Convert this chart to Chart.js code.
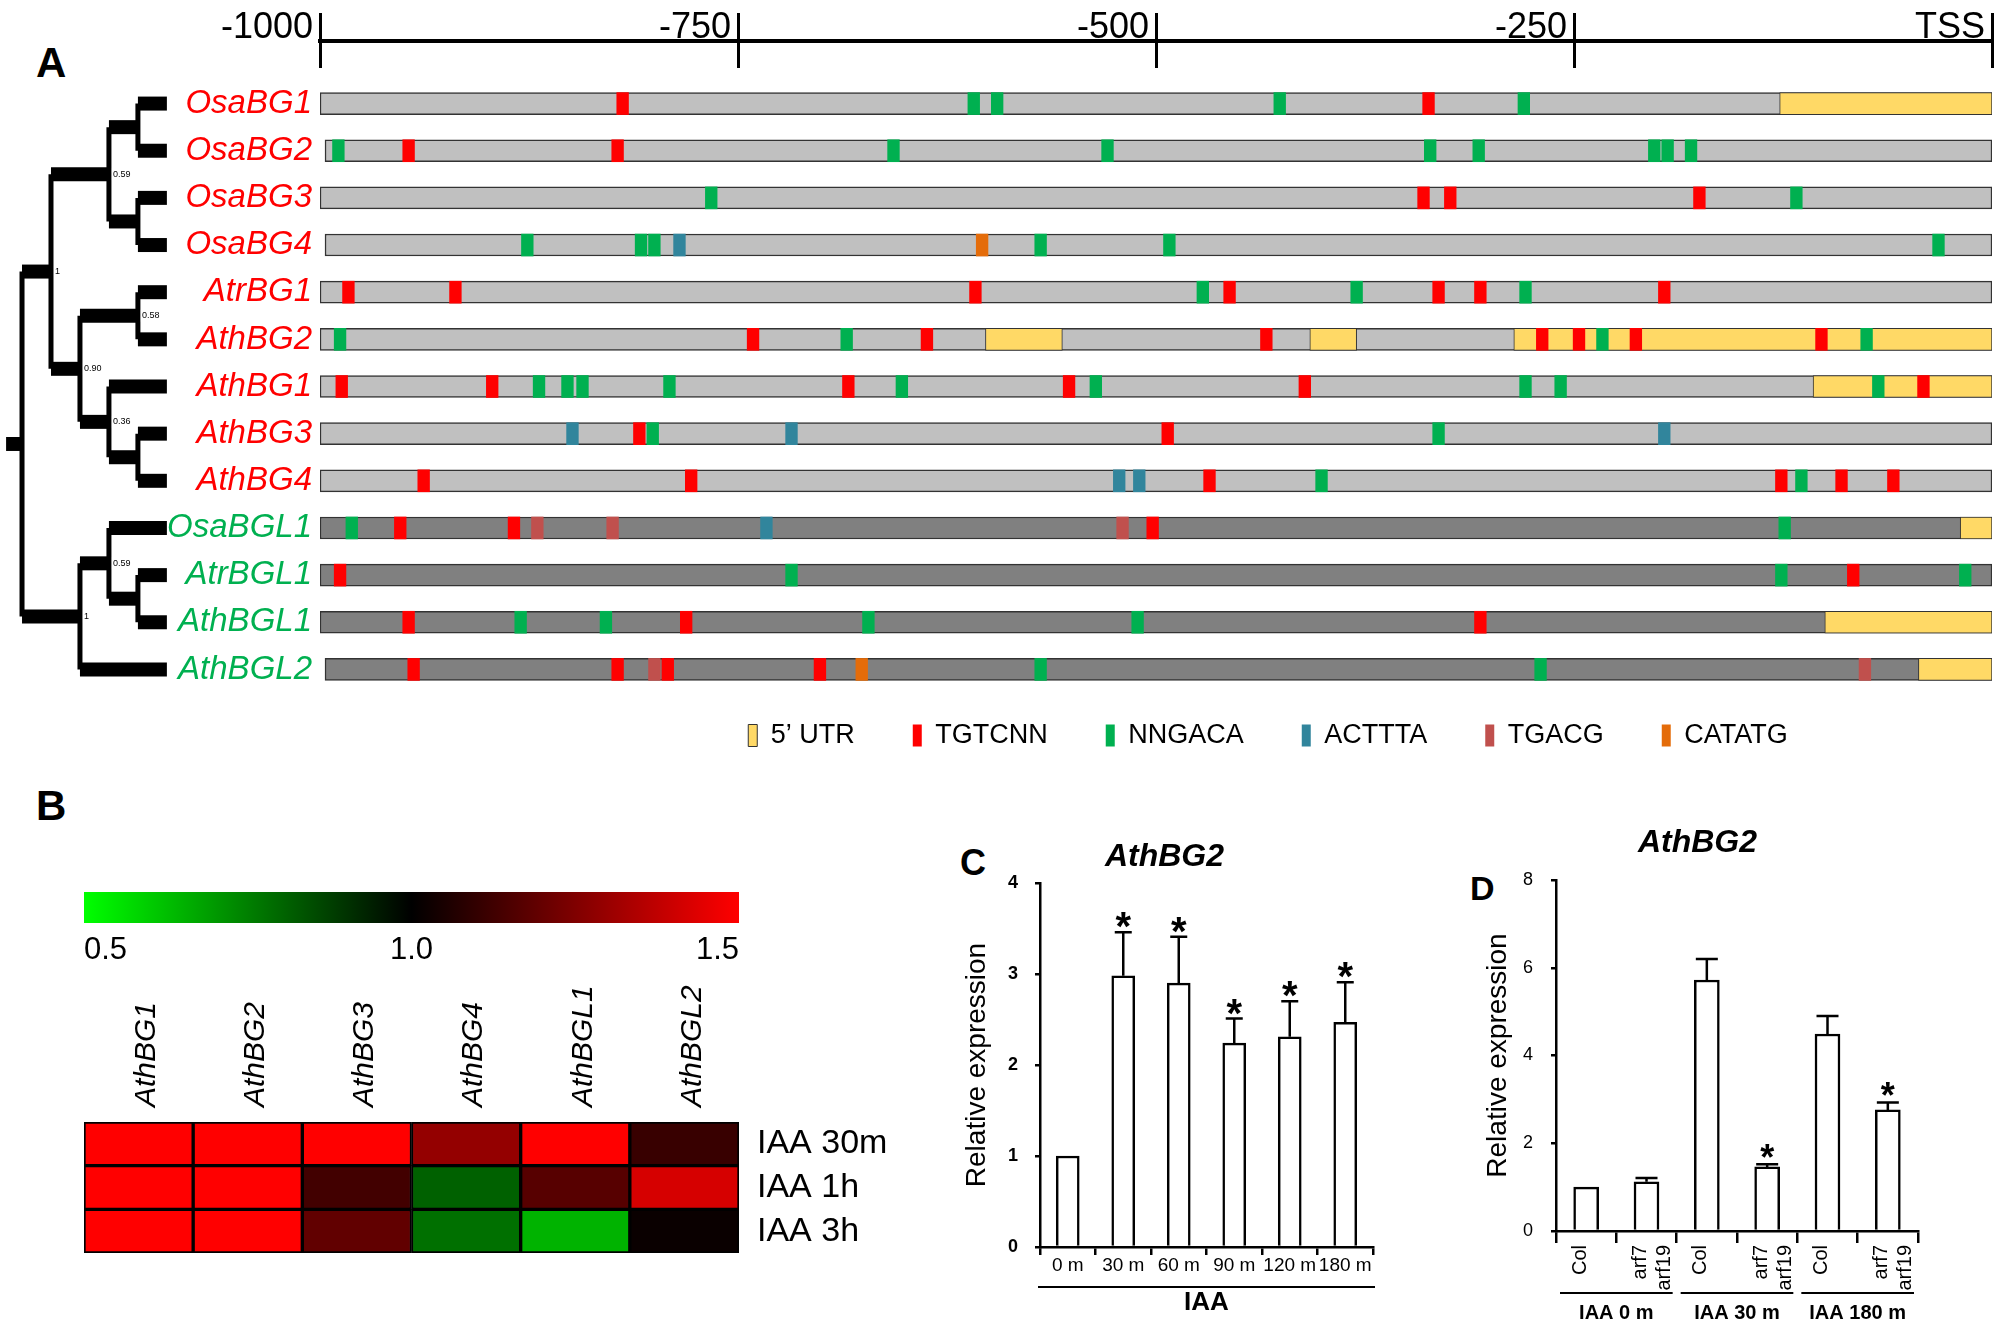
<!DOCTYPE html>
<html>
<head>
<meta charset="utf-8">
<script src="https://cdn.jsdelivr.net/npm/chart.js@4.4.1/dist/chart.umd.min.js"></script>
<style>
  body { margin: 0; background: #fff; width: 2005px; height: 1328px; position: relative; overflow: hidden;
         font-family: "Liberation Sans", Arial, sans-serif; }
  canvas, .panel { position: absolute; }
  .panel { font-weight: bold; line-height: 1; color: #000; }
</style>
</head>
<body>
<div class="panel" style="left:36px;top:42px;font-size:42px">A</div>
<div class="panel" style="left:36px;top:785px;font-size:42px">B</div>
<div class="panel" style="left:960px;top:845px;font-size:36px">C</div>
<div class="panel" style="left:1470px;top:871px;font-size:34px">D</div>

<canvas id="axisA" width="1855" height="68" style="left:150px;top:0"></canvas>
<canvas id="treeA" width="175" height="613" style="left:0;top:80px"></canvas>
<canvas id="promA" width="1855" height="613" style="left:150px;top:80px"></canvas>
<canvas id="legendA" width="1300" height="160" style="left:618px;top:664px"></canvas>
<canvas id="barB" width="920" height="90" style="left:0;top:880px"></canvas>
<canvas id="heatB" width="920" height="300" style="left:0;top:960px"></canvas>
<canvas id="chartC" width="500" height="498" style="left:940px;top:830px"></canvas>
<canvas id="chartD" width="564" height="508" style="left:1440px;top:820px"></canvas>

<script>
// ---- panel A data ----
const genes = ['OsaBG1', 'OsaBG2', 'OsaBG3', 'OsaBG4', 'AtrBG1', 'AthBG2', 'AthBG1', 'AthBG3', 'AthBG4',
               'OsaBGL1', 'AtrBGL1', 'AthBGL1', 'AthBGL2'];
const promoterStart = [-1000, -997, -1000, -997, -1000, -1000, -1000, -1000, -1000, -1000, -1000, -1000, -997];
const axisTicks = [-1000, -750, -500, -250, 0];
// [row, from, to]
const utrSegments = [[0, -127, 0], [5, -602, -556], [5, -408, -380], [5, -286, 0], [6, -107, 0],
                     [9, -19, 0], [11, -100, 0], [12, -44, 0]];
const motifNames = ['TGTCNN', 'NNGACA', 'ACTTTA', 'TGACG', 'CATATG'];
// motif positions (bp upstream of TSS), one list per gene row
const tgtcnn = [[-819, -337], [-947, -822], [-340, -324, -175], [], [-983, -919, -608, -456, -331, -306, -196],
  [-741, -637, -434, -269, -247, -213, -102], [-987, -897, -684, -552, -411, -41], [-809, -493],
  [-938, -778, -468, -126, -90, -59], [-952, -884, -502], [-988, -83], [-947, -781, -306], [-944, -822, -792, -701]];
const nngaca = [[-609, -595, -426, -280], [-989, -657, -529, -336, -307, -202, -194, -180], [-766, -117],
  [-876, -808, -800, -569, -492, -32], [-472, -380, -279], [-988, -685, -233, -75],
  [-869, -852, -843, -791, -652, -536, -279, -258, -68], [-801, -331], [-401, -114], [-981, -124],
  [-718, -126, -16], [-880, -829, -672, -511], [-569, -270]];
const acttta = [[], [], [], [-785], [], [], [], [-849, -718, -196], [-522, -510], [-733], [], [], []];
const tgacg = [[], [], [], [], [], [], [], [], [], [-870, -825, -520], [], [], [-800, -76]];
const catatg = [[], [], [], [-604], [], [], [], [], [], [], [], [], [-676]];

// tree: node -> [children (gene row or node id), depth, support]
const treeNodes = {
  a: [[0, 1], 4, ''], b: [[2, 3], 4, ''], osa: [['a', 'b'], 3, '0.59'],
  c: [[4, 5], 4, '0.58'], d: [[7, 8], 4, ''], e: [[6, 'd'], 3, '0.36'],
  f: [['c', 'e'], 2, '0.90'], g: [['osa', 'f'], 1, '1'],
  h: [[10, 11], 4, ''], i: [[9, 'h'], 3, '0.59'], j: [['i', 12], 2, '1'],
  root: [['g', 'j'], 0, '']
};

// ---- panel B data ----
const heatGenes = ['AthBG1', 'AthBG2', 'AthBG3', 'AthBG4', 'AthBGL1', 'AthBGL2'];
const heatTimes = ['IAA 30m', 'IAA 1h', 'IAA 3h'];
const heat30m = [1.5, 1.5, 1.5, 1.29, 1.5, 1.11];
const heat1h = [1.5, 1.5, 1.13, 0.81, 1.17, 1.42];
const heat3h = [1.5, 1.5, 1.19, 0.78, 0.65, 1.02];
const colorbarTicks = [0.5, 1.0, 1.5];

// ---- panel C data ----
const timesC = ['0 m', '30 m', '60 m', '90 m', '120 m', '180 m'];
const exprC = [1.0, 2.98, 2.90, 2.24, 2.31, 2.47];
const errC = [0, 0.48, 0.51, 0.27, 0.39, 0.44];
const starC = [false, true, true, true, true, true];

// ---- panel D data ----
const genotypesD = ['Col', ['arf7', 'arf19'], 'Col', ['arf7', 'arf19'], 'Col', ['arf7', 'arf19']];
const exprD = [1.0, 1.12, 5.72, 1.46, 4.49, 2.76];
const errD = [0, 0.09, 0.48, 0.06, 0.41, 0.17];
const starD = [false, false, false, true, false, true];
const groupsD = ['IAA 0 m', 'IAA 30 m', 'IAA 180 m'];

// ---- styling ----
const FONT = '"Liberation Sans", Arial, sans-serif';
Chart.defaults.font.family = FONT;
Chart.defaults.color = '#000';
Chart.defaults.animation = false;
Chart.defaults.responsive = false;
Chart.defaults.maintainAspectRatio = false;
Chart.defaults.plugins.legend.display = false;
Chart.defaults.plugins.tooltip.enabled = false;

const motifColors = ['#ff0000', '#00b050', '#31859c', '#c0504d', '#e46c0a'];
const utrColor = '#ffd966';
const isBGL = i => genes[i].includes('BGL');
// keep tick labels from shrinking the plot area
const noPad = s => { s.paddingTop = 0; s.paddingBottom = 0; };

// ---- A: top ruler ----
new Chart(document.getElementById('axisA'), {
  type: 'scatter',
  data: { datasets: [] },
  options: {
    layout: { padding: { left: 170, right: 13 } },
    scales: {
      x: {
        type: 'linear', position: 'top', min: -1000, max: 0,
        afterBuildTicks: s => { s.ticks = axisTicks.map(v => ({ value: v })); },
        afterFit: s => { s.height = 41; },
        ticks: { callback: v => v === 0 ? 'TSS' : String(v), font: { size: 36 }, align: 'end',
                 labelOffset: -7, padding: -37, maxRotation: 0 },
        grid: { color: '#000', lineWidth: 3, tickLength: 28 },
        border: { color: '#000', width: 4 }
      },
      y: { display: false }
    }
  }
});

// ---- A: tree ----
const nodeY = {};
function yOf(n) {
  if (typeof n === 'number') return n;
  if (nodeY[n] === undefined) nodeY[n] = (yOf(treeNodes[n][0][0]) + yOf(treeNodes[n][0][1])) / 2;
  return nodeY[n];
}
const depthOf = n => typeof n === 'number' ? 5 : treeNodes[n][1];
const treeSets = [];
function seg(x1, y1, x2, y2, w) {
  treeSets.push({ data: [{ x: x1, y: y1 }, { x: x2, y: y2 }], showLine: true, borderColor: '#000',
                  borderWidth: w, pointRadius: 0, borderCapStyle: 'butt' });
}
Object.keys(treeNodes).forEach(id => {
  const [kids, depth] = treeNodes[id];
  seg(depth, yOf(kids[0]), depth, yOf(kids[1]), 5);
  kids.forEach(k => seg(depth, yOf(k), depthOf(k), yOf(k), 14));
});
seg(-0.55, yOf('root'), 0, yOf('root'), 14);

const supportLabels = {
  id: 'supportLabels',
  afterDatasetsDraw(chart) {
    const c = chart.ctx, xs = chart.scales.x, ys = chart.scales.y;
    c.save();
    c.font = '9px ' + FONT;
    c.textBaseline = 'middle';
    Object.keys(treeNodes).forEach(id => {
      const txt = treeNodes[id][2];
      if (!txt) return;
      const x = xs.getPixelForValue(treeNodes[id][1]) + 4, y = ys.getPixelForValue(yOf(id));
      const w = c.measureText(txt).width;
      c.fillStyle = '#fff';
      c.fillRect(x - 1, y - 6, w + 2, 12);
      c.fillStyle = '#000';
      c.fillText(txt, x, y);
    });
    c.restore();
  }
};

new Chart(document.getElementById('treeA'), {
  type: 'scatter',
  data: { datasets: treeSets },
  options: {
    layout: { autoPadding: false },
    scales: {
      x: { type: 'linear', min: -0.76, max: 5.28, display: false },
      y: { type: 'linear', min: -0.5, max: 12.5, reverse: true, display: false }
    }
  },
  plugins: [supportLabels]
});

// ---- A: promoter map ----
const motifSets = [tgtcnn, nngaca, acttta, tgacg, catatg].map((rows, k) => ({
  label: motifNames[k],
  data: rows.flatMap((list, r) => list.map(p => ({ x: [p - 3.5, p + 3.5], y: r }))),
  backgroundColor: motifColors[k], borderWidth: 0, order: 0
}));
const utrSet = {
  label: '5’ UTR',
  data: utrSegments.map(([r, a, b]) => ({ x: [a, b], y: r })),
  backgroundColor: utrColor, borderColor: '#333', borderWidth: 1, borderSkipped: false, order: 1
};
const promoterSet = {
  label: 'promoter',
  data: genes.map((g, i) => ({ x: [promoterStart[i], 0], y: i })),
  backgroundColor: genes.map((g, i) => isBGL(i) ? '#808080' : '#c0c0c0'),
  borderColor: '#333', borderWidth: 1.5, borderSkipped: false, order: 2
};

new Chart(document.getElementById('promA'), {
  type: 'bar',
  data: { datasets: [...motifSets, utrSet, promoterSet] },
  options: {
    indexAxis: 'y',
    layout: { padding: { right: 13 }, autoPadding: false },
    datasets: { bar: { grouped: false, barThickness: 22 } },
    scales: {
      x: { type: 'linear', min: -1000, max: 0, display: false },
      y: {
        type: 'linear', min: -0.5, max: 12.5, reverse: true, offset: false,
        afterBuildTicks: s => { s.ticks = genes.map((g, i) => ({ value: i })); },
        afterFit: s => { s.width = 170; noPad(s); },
        ticks: {
          callback: v => genes[v],
          color: ctx => isBGL(ctx.index) ? '#00b050' : '#ff0000',
          font: { size: 33, style: 'italic' }, padding: 8
        },
        grid: { display: false, drawTicks: false },
        border: { display: false }
      }
    }
  }
});

// ---- A: legend ----
new Chart(document.getElementById('legendA'), {
  type: 'bar',
  data: {
    datasets: [
      { label: '5’ UTR', data: [], backgroundColor: utrColor, borderColor: '#333', borderWidth: 1 },
      ...motifNames.map((n, k) => ({ label: n, data: [], backgroundColor: motifColors[k], borderWidth: 0 }))
    ]
  },
  options: {
    scales: { x: { display: false }, y: { display: false } },
    plugins: {
      legend: {
        display: true, position: 'top', align: 'center', maxHeight: 150,
        labels: { boxWidth: 9, boxHeight: 22, padding: 58, font: { size: 27 }, color: '#000' }
      }
    }
  }
});

// ---- B: colour bar + heatmap ----
function heatColor(v) {
  const t = Math.max(-1, Math.min(1, (v - 1) / 0.5));
  return t >= 0 ? `rgb(${Math.round(255 * t)},0,0)` : `rgb(0,${Math.round(-255 * t)},0)`;
}

new Chart(document.getElementById('barB'), {
  type: 'bar',
  data: {
    labels: [''],
    datasets: [{
      data: [[colorbarTicks[0], colorbarTicks[2]]],
      backgroundColor: ctx => {
        const a = ctx.chart.chartArea;
        if (!a) return '#000';
        const g = ctx.chart.ctx.createLinearGradient(a.left, 0, a.right, 0);
        colorbarTicks.forEach((v, i) => g.addColorStop(i / (colorbarTicks.length - 1), heatColor(v)));
        return g;
      },
      borderWidth: 0, barPercentage: 1, categoryPercentage: 1
    }]
  },
  options: {
    indexAxis: 'y',
    layout: { padding: { left: 84, right: 181, top: 12 } },
    scales: {
      x: {
        type: 'linear', min: colorbarTicks[0], max: colorbarTicks[2],
        afterBuildTicks: s => { s.ticks = colorbarTicks.map(v => ({ value: v })); },
        afterFit: s => { s.height = 47; },
        ticks: { callback: v => v.toFixed(1), align: 'inner', font: { size: 31 }, padding: 9, maxRotation: 0 },
        grid: { display: false, drawTicks: false },
        border: { display: false }
      },
      y: { display: false }
    }
  }
});

new Chart(document.getElementById('heatB'), {
  type: 'bar',
  data: {
    labels: heatGenes,
    datasets: [heat30m, heat1h, heat3h].map((vals, r) => ({
      label: heatTimes[r],
      data: vals.map(() => [r, r + 1]),
      backgroundColor: vals.map(heatColor),
      borderColor: '#000', borderWidth: 2, borderSkipped: false,
      barPercentage: 1, categoryPercentage: 1, grouped: false
    }))
  },
  options: {
    layout: { padding: { left: 84, bottom: 7 } },
    scales: {
      x: {
        position: 'top',
        afterFit: s => { s.height = 162; },
        ticks: { font: { size: 30, style: 'italic' }, minRotation: 90, maxRotation: 90, padding: 15,
                 labelOffset: 44, autoSkip: false },
        grid: { display: false, drawTicks: false },
        border: { display: false }
      },
      y: {
        type: 'linear', min: 0, max: 3, reverse: true, position: 'right',
        afterBuildTicks: s => { s.ticks = heatTimes.map((t, i) => ({ value: i + 0.5 })); },
        afterFit: s => { s.width = 181; noPad(s); },
        ticks: { callback: (v, i) => heatTimes[i], font: { size: 34 }, padding: 18 },
        grid: { display: false, drawTicks: false },
        border: { display: false }
      }
    }
  }
});

// ---- C / D: bar charts with error bars ----
const errorBars = {
  id: 'errorBars',
  afterDatasetsDraw(chart, args, o) {
    const meta = chart.getDatasetMeta(0), ys = chart.scales.y, c = chart.ctx;
    const vals = chart.data.datasets[0].data;
    c.save();
    c.strokeStyle = '#000';
    c.lineWidth = 2.5;
    c.fillStyle = '#000';
    c.font = o.starFont;
    c.textAlign = 'center';
    c.textBaseline = 'alphabetic';
    meta.data.forEach((bar, i) => {
      const top = ys.getPixelForValue(vals[i] + o.errors[i]);
      if (o.errors[i] > 0) {
        c.beginPath();
        c.moveTo(bar.x, bar.y);
        c.lineTo(bar.x, top);
        c.moveTo(bar.x - o.cap / 2, top);
        c.lineTo(bar.x + o.cap / 2, top);
        c.stroke();
      }
      if (o.stars[i]) c.fillText('*', bar.x, top + o.starShift);
    });
    c.restore();
  }
};

const groupLines = {
  id: 'groupLines',
  afterDraw(chart, args, o) {
    const xs = chart.scales.x, c = chart.ctx, base = chart.chartArea.bottom;
    const w = xs.width / xs.ticks.length;
    c.save();
    c.strokeStyle = '#000';
    c.lineWidth = 2;
    c.fillStyle = '#000';
    c.font = o.font;
    c.textAlign = 'center';
    c.textBaseline = 'middle';
    o.groups.forEach((label, g) => {
      const l = xs.getPixelForValue(g * o.span) - w / 2 + o.inset;
      const r = xs.getPixelForValue(g * o.span + o.span - 1) + w / 2 - o.inset;
      c.beginPath();
      c.moveTo(l, base + o.lineY);
      c.lineTo(r, base + o.lineY);
      c.stroke();
      c.fillText(label, (l + r) / 2, base + o.textY);
    });
    c.restore();
  }
};

new Chart(document.getElementById('chartC'), {
  type: 'bar',
  data: { labels: timesC, datasets: [{ data: exprC, backgroundColor: '#fff', borderColor: '#000', borderWidth: 2.5, barThickness: 23 }] },
  options: {
    layout: { padding: { left: 16, right: 67, bottom: 45 } },
    plugins: {
      title: { display: true, text: 'AthBG2', color: '#000', font: { size: 32, weight: 'bold', style: 'italic' },
               padding: { top: 8, bottom: 6.6 } },
      errorBars: { errors: errC, stars: starC, cap: 17, starFont: 'bold 40px ' + FONT, starShift: 8 },
      groupLines: { groups: ['IAA'], span: 6, inset: -2, lineY: 40, textY: 56, font: 'bold 26px ' + FONT }
    },
    scales: {
      x: {
        afterFit: s => { s.height = 36; },
        ticks: { font: { size: 19 }, padding: -1, maxRotation: 0, autoSkip: false },
        grid: { drawOnChartArea: false, offset: true, tickLength: 8, lineWidth: 2.5, color: '#000' },
        border: { color: '#000', width: 2.5 }
      },
      y: {
        min: 0, max: 4,
        afterFit: s => { s.width = 84; },
        ticks: { stepSize: 1, font: { size: 18, weight: 'bold' }, padding: 17 },
        grid: { drawOnChartArea: false, tickLength: 5, lineWidth: 2.5, color: '#000' },
        border: { color: '#000', width: 2.5 },
        title: { display: true, text: 'Relative expression', font: { size: 28 }, color: '#000' }
      }
    }
  },
  plugins: [errorBars, groupLines]
});

new Chart(document.getElementById('chartD'), {
  type: 'bar',
  data: { labels: genotypesD, datasets: [{ data: exprD, backgroundColor: '#fff', borderColor: '#000', borderWidth: 2.5, barThickness: 25 }] },
  options: {
    layout: { padding: { left: 37, right: 86, bottom: 33 } },
    plugins: {
      title: { display: true, text: 'AthBG2', color: '#000', font: { size: 32, weight: 'bold', style: 'italic' },
               padding: { top: 4, bottom: 17.6 } },
      errorBars: { errors: errD, stars: starD, cap: 22, starFont: 'bold 36px ' + FONT, starShift: 6 },
      groupLines: { groups: groupsD, span: 2, inset: 4, lineY: 62, textY: 82, font: 'bold 20px ' + FONT }
    },
    scales: {
      x: {
        afterFit: s => { s.height = 64; },
        ticks: { font: { size: 20 }, padding: 2, minRotation: 90, maxRotation: 90, labelOffset: -6, autoSkip: false },
        grid: { drawOnChartArea: false, offset: true, tickLength: 12, lineWidth: 2.5, color: '#000' },
        border: { color: '#000', width: 2.5 }
      },
      y: {
        min: 0, max: 8,
        afterFit: s => { s.width = 79; },
        ticks: { stepSize: 2, font: { size: 18 }, padding: 18 },
        grid: { drawOnChartArea: false, tickLength: 5, lineWidth: 2.5, color: '#000' },
        border: { color: '#000', width: 2.5 },
        title: { display: true, text: 'Relative expression', font: { size: 28 }, color: '#000' }
      }
    }
  },
  plugins: [errorBars, groupLines]
});
</script>
</body>
</html>
